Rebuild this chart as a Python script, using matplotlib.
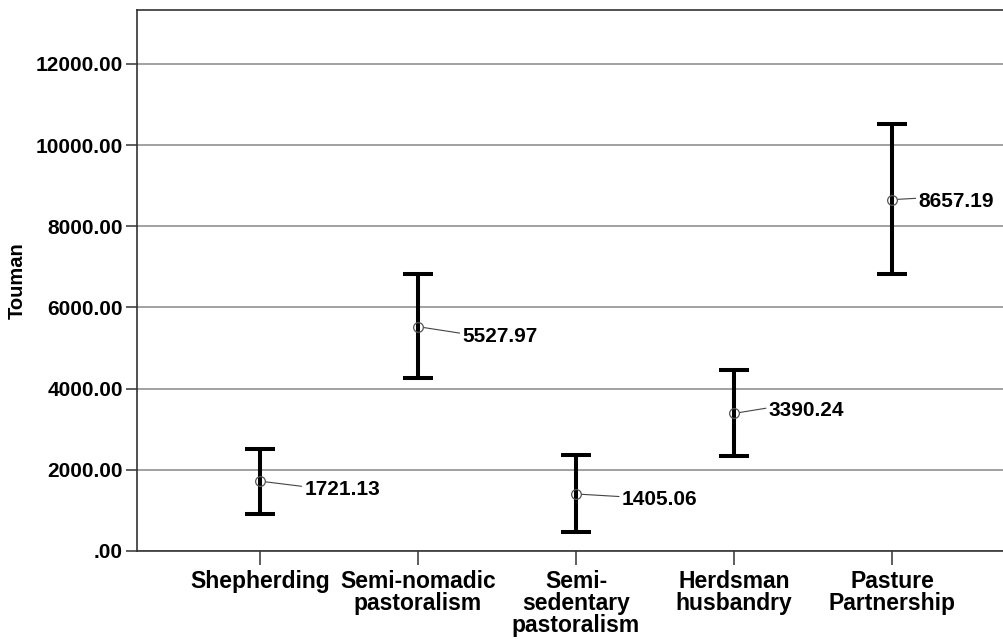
import matplotlib.pyplot as plt

# Mean income (Touman) per livelihood group with confidence limits
categories = [
    "Shepherding",
    "Semi-nomadic\npastoralism",
    "Semi-\nsedentary\npastoralism",
    "Herdsman\nhusbandry",
    "Pasture\nPartnership",
]
means = [1721.13, 5527.97, 1405.06, 3390.24, 8657.19]
upper = [2516, 6815, 2365, 4450, 10510]
lower = [919, 4270, 478, 2340, 6833]
yticks = [0, 2000, 4000, 6000, 8000, 10000, 12000]
ytick_labels = [".00", "2000.00", "4000.00", "6000.00", "8000.00", "10000.00", "12000.00"]

# label offsets from each mean point (points)
label_offsets = [(32, -6), (32, -7), (33, -4), (25, 2), (19, -1)]

plt.rcParams["font.family"] = ["Liberation Sans", "DejaVu Sans"]
plt.rcParams["font.weight"] = "bold"

fig = plt.figure(figsize=(10.04, 6.39), dpi=100)
ax = fig.add_axes([137 / 1004, 88 / 639, 867 / 1004, 541 / 639])

x = list(range(1, len(categories) + 1))
err_lo = [m - lo for m, lo in zip(means, lower)]
err_hi = [hi - m for m, hi in zip(means, upper)]

ax.errorbar(x, means, yerr=[err_lo, err_hi], fmt="none", ecolor="black",
            elinewidth=2.9, capsize=10.8, capthick=2.9, zorder=3)
ax.plot(x, means, "o", markersize=7, markerfacecolor="none",
        markeredgecolor="#555555", markeredgewidth=0.9, zorder=4)

for xi, m, off in zip(x, means, label_offsets):
    ax.annotate(f"{m:.2f}", xy=(xi, m), xytext=off, textcoords="offset points",
                ha="left", va="center", fontsize=15, fontweight="bold",
                arrowprops=dict(arrowstyle="-", color="#444444", lw=0.8,
                                shrinkA=0, shrinkB=4, relpos=(0, 0.65)))

ax.set_xlim(0.222, 5.709)
ax.set_ylim(0, 13330)
ax.set_yticks(yticks)
ax.set_yticklabels(ytick_labels, fontsize=15, fontweight="bold")
ax.set_xticks(x)
ax.set_xticklabels(categories, fontsize=16.5, fontweight="bold", linespacing=0.93)
ax.set_ylabel("Touman", fontsize=14.5, fontweight="bold")
ax.yaxis.set_label_coords(-0.127, 0.5)

ax.yaxis.grid(True, color="#888888", linewidth=1.1)
ax.set_axisbelow(True)
ax.tick_params(axis="y", length=8, width=1.1, color="#333333", pad=2)
ax.tick_params(axis="x", length=10, width=1.1, color="#333333", pad=4)

for side in ["left", "bottom", "top"]:
    ax.spines[side].set_color("#333333")
    ax.spines[side].set_linewidth(1.2)
ax.spines["right"].set_visible(False)

fig.savefig("out.png", dpi=100)
